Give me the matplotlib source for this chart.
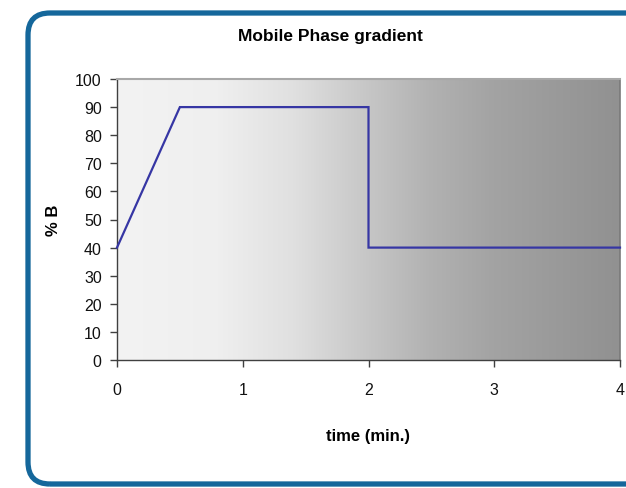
import matplotlib
matplotlib.use("Agg")
import matplotlib.pyplot as plt
import numpy as np
from matplotlib.colors import LinearSegmentedColormap
from matplotlib.patches import FancyBboxPatch
from matplotlib.transforms import IdentityTransform

# gradient program: time (min) vs %B
time_min = [0, 0.5, 2, 2, 4]
percent_b = [40, 90, 90, 40, 40]

x_ticks = [0, 1, 2, 3, 4]
y_ticks = [0, 10, 20, 30, 40, 50, 60, 70, 80, 90, 100]

plt.rcParams['font.family'] = ['Liberation Sans', 'DejaVu Sans']

fig = plt.figure(figsize=(6.26, 4.89), dpi=100)
fig.patch.set_facecolor('white')

# rounded blue frame (in pixels)
frame = FancyBboxPatch((28, 4), 700, 471, boxstyle="round,pad=0,rounding_size=22",
                       transform=IdentityTransform(), facecolor='none',
                       edgecolor='#15679b', linewidth=3.8, zorder=-1)
fig.patches.append(frame)

ax = fig.add_axes([117/626, 1 - 361/489, 503/626, 281/489])

# grey gradient background of plot area
cmap = LinearSegmentedColormap.from_list(
    'bg', [(0.0, '#f3f3f3'), (0.2, '#efefef'), (0.35, '#e0e0e0'),
           (0.5, '#c6c6c6'), (0.62, '#b2b2b2'), (0.75, '#a3a3a3'),
           (1.0, '#919191')])
grad = np.linspace(0, 1, 256).reshape(1, -1)
ax.imshow(grad, cmap=cmap, extent=[0, 4, 0, 100], aspect='auto',
          zorder=0, interpolation='bicubic')

ax.plot(time_min, percent_b, color='#3636a4', linewidth=1.6, zorder=3,
        solid_joinstyle='miter', clip_on=False)

ax.set_xlim(0, 4)
ax.set_ylim(0, 100)
ax.set_xticks(x_ticks)
ax.set_yticks(y_ticks)
ax.tick_params(axis='both', direction='out', length=5, width=1,
               color='#404040', labelsize=11.5, labelcolor='#111111')
ax.tick_params(axis='x', pad=11)
ax.tick_params(axis='y', pad=6)

for side in ['left', 'bottom']:
    ax.spines[side].set_color('#404040')
    ax.spines[side].set_linewidth(1.0)
ax.spines['top'].set_color('#a8a8a8')
ax.spines['top'].set_linewidth(1.5)
ax.spines['right'].set_color('#7a7a7a')
ax.spines['right'].set_linewidth(1.2)

ax.set_xlabel('time (min.)', fontsize=12, fontweight='bold', labelpad=22)
ax.set_ylabel('% B', fontsize=12, fontweight='bold', labelpad=10)

fig.text(330/626, 1 - 36/489, 'Mobile Phase gradient', ha='center', va='center',
         fontsize=12.5, fontweight='bold')

fig.savefig('out.png', dpi=100)
